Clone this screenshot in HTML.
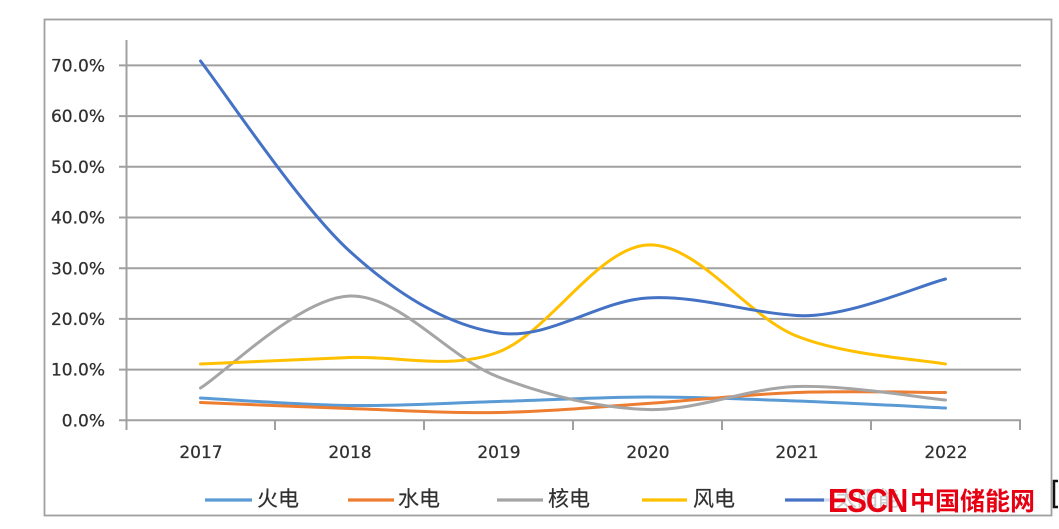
<!DOCTYPE html>
<html><head><meta charset="utf-8"><style>
html,body{margin:0;padding:0;background:#fff;}
body{width:1059px;height:529px;overflow:hidden;position:relative;}
svg{position:absolute;left:0;top:0;}
.t{font-family:"DejaVu Sans","Liberation Sans",sans-serif;font-size:17px;fill:#303030;stroke:#303030;stroke-width:0.25;}
.c{font-family:"Liberation Sans","Noto Sans CJK SC",sans-serif;font-size:21px;fill:#303030;stroke:#303030;stroke-width:0.2;}
</style></head><body>
<svg width="1059" height="529" viewBox="0 0 1059 529" xmlns="http://www.w3.org/2000/svg">
<rect x="44.5" y="19.5" width="1007" height="496" fill="#fff" stroke="#a0a0a0" stroke-width="1.8"/>
<g stroke="#a0a0a0" stroke-width="2" fill="none">
<line x1="119" y1="65.4" x2="1021" y2="65.4"/>
<line x1="119" y1="116.1" x2="1021" y2="116.1"/>
<line x1="119" y1="166.8" x2="1021" y2="166.8"/>
<line x1="119" y1="217.5" x2="1021" y2="217.5"/>
<line x1="119" y1="268.2" x2="1021" y2="268.2"/>
<line x1="119" y1="318.9" x2="1021" y2="318.9"/>
<line x1="119" y1="369.6" x2="1021" y2="369.6"/>
<line x1="119" y1="420.3" x2="1021" y2="420.3"/>
<line x1="126.5" y1="40" x2="126.5" y2="430"/>
<line x1="275" y1="420" x2="275" y2="430"/>
<line x1="424" y1="420" x2="424" y2="430"/>
<line x1="573" y1="420" x2="573" y2="430"/>
<line x1="722" y1="420" x2="722" y2="430"/>
<line x1="871" y1="420" x2="871" y2="430"/>
<line x1="1020" y1="420" x2="1020" y2="430"/>
</g>
<g class="t" text-anchor="end">
<text x="105" y="71.5">70.0%</text>
<text x="105" y="122.2">60.0%</text>
<text x="105" y="172.9">50.0%</text>
<text x="105" y="223.6">40.0%</text>
<text x="105" y="274.3">30.0%</text>
<text x="105" y="325">20.0%</text>
<text x="105" y="375.7">10.0%</text>
<text x="105" y="426.4">0.0%</text>
</g>
<g class="t" text-anchor="middle">
<text x="201" y="458">2017</text>
<text x="350" y="458">2018</text>
<text x="499" y="458">2019</text>
<text x="648" y="458">2020</text>
<text x="797" y="458">2021</text>
<text x="946" y="458">2022</text>
</g>
<g fill="none" stroke-width="3" stroke-linecap="round">
<path stroke="#5B9BD5" d="M200.5,398 C225.33,399.25 299.83,404.92 349.5,405.5 C399.17,406.08 448.83,402.92 498.5,401.5 C548.17,400.08 597.83,397.08 647.5,397 C697.17,396.92 746.83,399.17 796.5,401 C846.17,402.83 920.67,406.83 945.5,408"/>
<path stroke="#ED7D31" d="M200.5,402.5 C225.33,403.5 299.83,406.83 349.5,408.5 C399.17,410.17 448.83,413.33 498.5,412.5 C548.17,411.67 597.83,406.83 647.5,403.5 C697.17,400.17 746.83,394.33 796.5,392.5 C846.17,390.67 920.67,392.5 945.5,392.5"/>
<path stroke="#A5A5A5" d="M200.5,388 C225.33,372.67 299.83,297.83 349.5,296 C399.17,294.17 448.83,358.08 498.5,377 C548.17,395.92 597.83,407.92 647.5,409.5 C697.17,411.08 746.83,388.08 796.5,386.5 C846.17,384.92 920.67,397.75 945.5,400"/>
<path stroke="#FFC000" d="M200.5,364 C225.33,362.92 299.83,359.5 349.5,357.5 C399.17,355.5 448.83,370.75 498.5,352 C548.17,333.25 597.83,247.67 647.5,245 C697.17,242.33 746.83,316.17 796.5,336 C846.17,355.83 920.67,359.33 945.5,364"/>
<path stroke="#4472C4" d="M200.5,61 C225.33,93 299.83,205.67 349.5,251 C399.17,296.33 448.83,325.5 498.5,333 C548.17,340.5 597.83,300.92 647.5,298 C697.17,295.08 746.83,312.33 796.5,315.5 C846.17,318.67 920.67,285.08 945.5,279"/>
</g>
<g stroke-width="3.2">
<line x1="205" y1="500" x2="252" y2="500" stroke="#5B9BD5"/>
<line x1="348" y1="500" x2="394" y2="500" stroke="#ED7D31"/>
<line x1="497" y1="500" x2="543" y2="500" stroke="#A5A5A5"/>
<line x1="642" y1="500" x2="687" y2="500" stroke="#FFC000"/>
<line x1="785" y1="500" x2="831" y2="500" stroke="#4472C4"/>
</g>
<g class="c">
<text x="257" y="506">火电</text>
<text x="398" y="506">水电</text>
<text x="548" y="506">核电</text>
<text x="693" y="506">风电</text>
<text x="836" y="506">太阳能</text>
</g>
<rect x="824" y="486" width="212" height="28" fill="rgba(255,255,255,0.75)"/>
<text x="828" y="512" transform="translate(828,512) scale(1,1.12) translate(-828,-512)" font-family="Liberation Sans, sans-serif" font-weight="bold" font-size="30" letter-spacing="-1" fill="#E60012">ESCN</text>
<text x="910" y="510" font-family="Liberation Sans, Noto Sans CJK SC, sans-serif" font-weight="bold" font-size="25" fill="#E60012">中国储能网</text>
<path d="M1058,481 H1054 V507 H1058" fill="none" stroke="#111" stroke-width="2.5"/>
</svg>
</body></html>
